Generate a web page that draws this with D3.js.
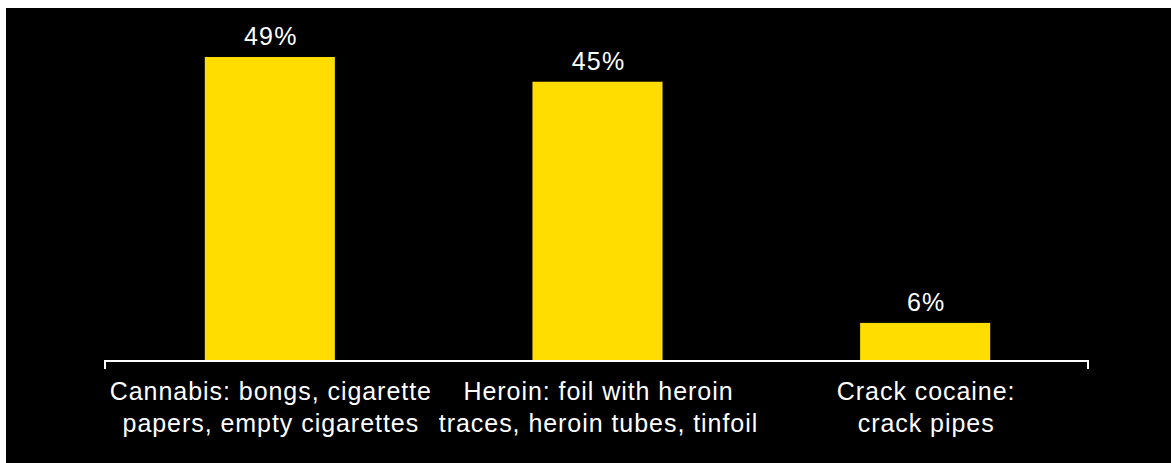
<!DOCTYPE html>
<html>
<head>
<meta charset="utf-8">
<script src="https://cdn.jsdelivr.net/npm/d3@7"></script>
<style>
html,body{margin:0;padding:0;background:#fff;}
svg{display:block;}
</style>
</head>
<body>
<svg id="chart" width="1171" height="463"></svg>
<script>
const categories = [
  ["Cannabis: bongs, cigarette", "papers, empty cigarettes"],
  ["Heroin: foil with heroin", "traces, heroin tubes, tinfoil"],
  ["Crack cocaine:", "crack pipes"]
];
const categoryKeys = ["Cannabis", "Heroin", "Crack cocaine"];
const values = [49, 45, 6];
const valueLabels = ["49%", "45%", "6%"];

const W = 1171, H = 463;
const svg = d3.select("#chart");
const font = "'Liberation Sans', Arial, Helvetica, sans-serif";

svg.append("rect").attr("x", 6).attr("y", 8).attr("width", W - 6).attr("height", H - 8).attr("fill", "#000");

const x = d3.scaleBand().domain(categoryKeys).range([105, 1088]).paddingInner(0.6).paddingOuter(0.3);
const y = d3.scaleLinear().domain([0, 49]).range([360, 57]);

svg.append("g").selectAll("rect").data(values).join("rect")
  .attr("x", (d, i) => x(categoryKeys[i]) + 1.5)
  .attr("y", d => y(d))
  .attr("width", x.bandwidth() - 1)
  .attr("height", d => y(0) - y(d))
  .attr("fill", "#FFDD00");

svg.append("g").selectAll("text").data(values).join("text")
  .attr("x", (d, i) => x(categoryKeys[i]) + 2 + x.bandwidth() / 2)
  .attr("y", d => y(d) - 12)
  .attr("text-anchor", "middle")
  .attr("font-family", font)
  .attr("font-size", 25)
  .attr("letter-spacing", 1.2)
  .attr("fill", "#fff")
  .text((d, i) => valueLabels[i]);

// axis
const axisG = svg.append("g").attr("transform", `translate(0,${y(0) + 1})`);
const axis = d3.axisBottom(x).tickSize(0).tickFormat("");
axisG.call(axis);
axisG.select(".domain").remove();
axisG.append("path")
  .attr("d", `M${x.range()[0]},8V0H${x.range()[1]}V8`)
  .attr("fill", "none").attr("stroke", "#fff").attr("stroke-width", 2);

const lab = svg.append("g").selectAll("text").data(categories).join("text")
  .attr("text-anchor", "middle")
  .attr("font-family", font)
  .attr("font-size", 25)
  .attr("letter-spacing", 0.95)
  .attr("fill", "#fff");
lab.each(function(lines, i) {
  const cx = x(categoryKeys[i]) + 2 + x.bandwidth() / 2;
  d3.select(this).selectAll("tspan").data(lines).join("tspan")
    .attr("x", cx)
    .attr("y", (l, j) => 400 + j * 32)
    .text(l => l);
});
</script>
</body>
</html>
